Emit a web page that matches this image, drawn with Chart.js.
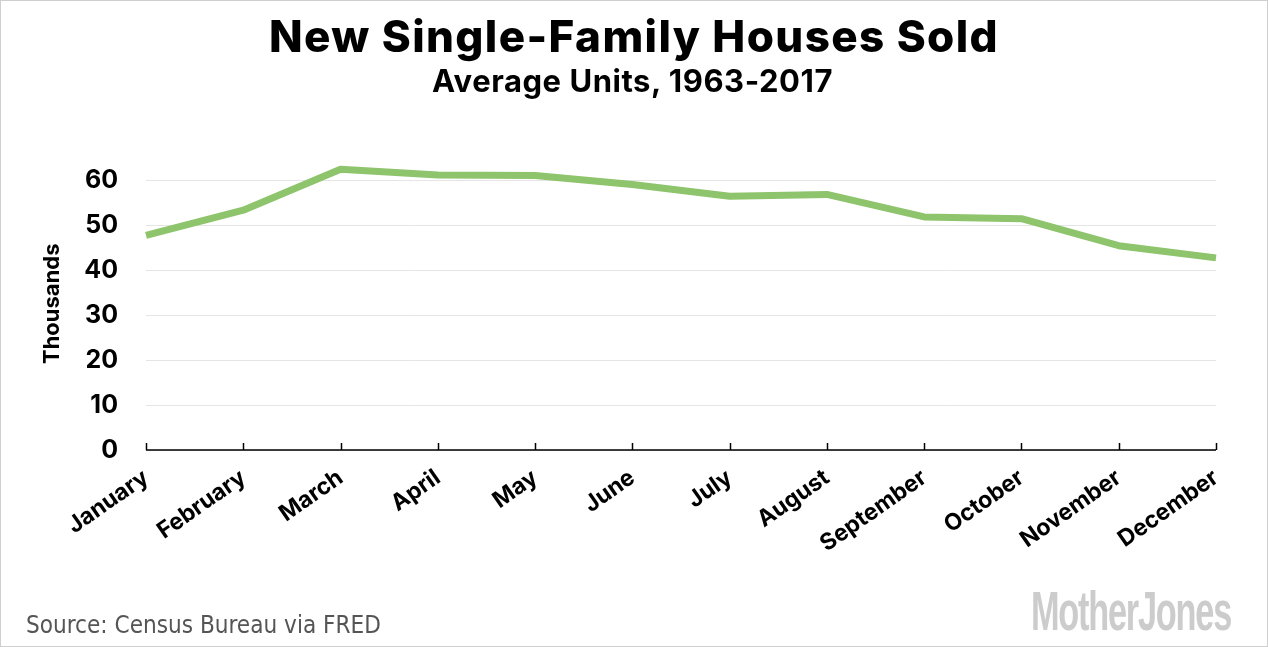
<!DOCTYPE html>
<html>
<head>
<meta charset="utf-8">
<script src="https://cdn.jsdelivr.net/npm/chart.js@4.4.1/dist/chart.umd.min.js"></script>
<style>
  html, body { margin:0; padding:0; background:#fff; }
  #wrap { position:relative; width:1268px; height:647px; box-sizing:border-box; border:1px solid #cfcfcf; overflow:hidden; }
  #c { position:absolute; left:0; top:0; }
  .t { position:absolute; white-space:nowrap; }
  #title { top:8px; font-family:Inter, sans-serif; font-weight:800; font-size:44px; color:#000; }
  #subtitle { top:61px; font-family:Inter, sans-serif; font-weight:700; font-size:31px; color:#000; }
  #source { left:25px; font-family:"DejaVu Sans Condensed", "DejaVu Sans", sans-serif; font-size:20px; color:#555; line-height:1; }
  #logo { left:1030px; top:582px; font-family:"Liberation Sans", sans-serif; font-weight:700; font-size:56px; color:#cccccc; line-height:56px; transform-origin:0 0; letter-spacing:-2px; }
</style>
</head>
<body>
<div id="wrap">
  <canvas id="c" width="1268" height="647"></canvas>
  <div id="title" class="t">New Single-Family Houses Sold</div>
  <div id="subtitle" class="t">Average Units, 1963-2017</div>
  <div id="source" class="t">Source: Census Bureau via FRED</div>
  <div id="logo" class="t">MotherJones</div>
</div>
<script>
const months = ["January","February","March","April","May","June","July","August","September","October","November","December"];
const avgUnits = [47.7, 53.3, 62.4, 61.1, 61.0, 59.0, 56.4, 56.8, 51.8, 51.4, 45.4, 42.7];
const yTicks = [0, 10, 20, 30, 40, 50, 60];
const yTitle = "Thousands";

function fitSpacing(id, left, width) {
  const el = document.getElementById(id);
  const n = el.textContent.length;
  const w = el.getBoundingClientRect().width;
  el.style.letterSpacing = ((width - w) / n) + 'px';
  el.style.left = left + 'px';
}
fitSpacing('title', 268, 730);
fitSpacing('subtitle', 431, 401);
(function(){
  const el = document.getElementById('source');
  const w = el.getBoundingClientRect().width;
  const fs = 20 * 355 / w;
  el.style.fontSize = fs + 'px';
  el.style.top = (636 - fs) + 'px';
})();
(function(){
  const el = document.getElementById('logo');
  const w = el.getBoundingClientRect().width;
  el.style.transform = 'scaleX(' + (200 / w) + ')';
})();

const tickMarks = {
  id: 'tickMarks',
  afterDatasetsDraw(chart) {
    const ctx = chart.ctx, x = chart.scales.x, area = chart.chartArea;
    ctx.save();
    ctx.strokeStyle = '#000';
    ctx.lineWidth = 1.5;
    ctx.beginPath();
    ctx.moveTo(area.left, area.bottom);
    ctx.lineTo(area.right, area.bottom);
    for (let i = 0; i < months.length; i++) {
      const px = Math.round(x.getPixelForTick(i)) + 0.5;
      ctx.moveTo(px, area.bottom);
      ctx.lineTo(px, area.bottom - 7);
    }
    ctx.stroke();
    ctx.restore();
  }
};

new Chart(document.getElementById('c'), {
  type: 'line',
  data: {
    labels: months,
    datasets: [{
      data: avgUnits,
      borderColor: '#8dc46c',
      borderWidth: 7,
      pointRadius: 0,
      tension: 0,
      fill: false,
      borderJoinStyle: 'round'
    }]
  },
  options: {
    responsive: false,
    animation: false,
    devicePixelRatio: 1,
    layout: { padding: { top: 156.5, right: 53, bottom: 0, left: 38 } },
    plugins: { legend: { display: false }, tooltip: { enabled: false } },
    scales: {
      x: {
        grid: { display: false },
        border: { display: false },
        afterFit: s => { s.height = 198; },
        ticks: {
          autoSkip: false,
          maxRotation: 35,
          minRotation: 35,
          color: '#000',
          padding: 6,
          font: { family: 'Inter', weight: '700', size: 23 }
        }
      },
      y: {
        min: 0,
        max: 65,
        afterFit: s => { s.width = 107; },
        afterBuildTicks: s => { s.ticks = yTicks.map(v => ({ value: v })); },
        grid: { color: '#e5e5e5', lineWidth: 1, drawTicks: false },
        border: { display: false },
        title: { display: true, text: yTitle, color: '#000', font: { family: 'Inter', weight: '700', size: 22 }, padding: { top: 0, bottom: 0 } },
        ticks: {
          color: '#000',
          padding: 28,
          font: { family: 'Inter', weight: '700', size: 25 }
        }
      }
    }
  },
  plugins: [tickMarks]
});
</script>
</body>
</html>
